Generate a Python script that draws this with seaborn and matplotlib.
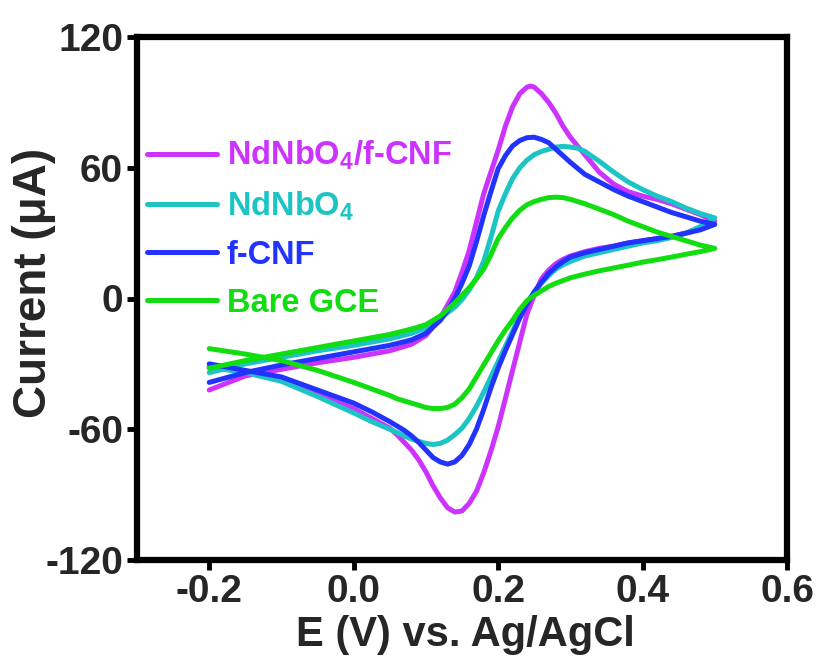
import numpy as np
import pandas as pd
import seaborn as sns
import matplotlib
matplotlib.use("Agg")
import matplotlib.pyplot as plt

# ---------------- data ----------------
series_names = ["NdNbO$_4$/f-CNF", "NdNbO$_4$", "f-CNF", "Bare GCE"]
series_colors = ["#CC33FF", "#1CC4C4", "#2233FF", "#11DD11"]

# forward (anodic) scans: -0.2 -> 0.5 V
E_fwd_mag = [-0.2, -0.15, -0.1, -0.05, 0.0, 0.05, 0.08, 0.1, 0.12, 0.13, 0.14, 0.15, 0.16, 0.17, 0.18, 0.19,
             0.2, 0.21, 0.22, 0.23, 0.24, 0.245, 0.25, 0.26, 0.27, 0.28, 0.29, 0.3, 0.31, 0.32, 0.34, 0.36, 0.38,
             0.4, 0.42, 0.44, 0.46, 0.48, 0.5]
I_fwd_mag = [-42, -35.5, -32.5, -29.5, -27, -24, -21, -17, -9, -3, 3, 12, 22, 35, 48, 58,
             68, 79, 88, 94, 97, 97.5, 97, 94, 90, 85, 79, 74, 70, 66, 58, 52.5, 49,
             47, 45.5, 43.5, 41, 38.5, 35.5]

E_rev_mag = [0.5, 0.48, 0.46, 0.44, 0.42, 0.4, 0.38, 0.36, 0.34, 0.32, 0.3, 0.29, 0.28, 0.27, 0.26, 0.25,
             0.24, 0.23, 0.22, 0.21, 0.2, 0.19, 0.18, 0.17, 0.16, 0.15, 0.14, 0.13, 0.12, 0.11, 0.1, 0.09,
             0.08, 0.07, 0.06, 0.05, 0.025, 0.0, -0.05, -0.1, -0.15, -0.2]
I_rev_mag = [35.5, 32, 30, 28.5, 27.5, 26.5, 25.5, 24, 23, 21.5, 19.5, 18, 16, 13, 9, 1.5,
             -7, -20, -33, -46, -59, -70, -80, -88.5, -94, -97.5, -98, -96, -91.5, -86, -79.5, -74,
             -69.5, -66, -62.5, -59.5, -55, -50.5, -44, -37.5, -34, -31]

E_fwd_cya = [-0.2, -0.15, -0.1, -0.05, 0.0, 0.05, 0.08, 0.1, 0.12, 0.14, 0.15, 0.16, 0.17, 0.18, 0.19,
             0.2, 0.21, 0.22, 0.23, 0.24, 0.25, 0.26, 0.27, 0.28, 0.29, 0.3, 0.31, 0.32, 0.34, 0.36, 0.38,
             0.4, 0.42, 0.44, 0.46, 0.48, 0.5]
I_fwd_cya = [-34, -30, -27, -24, -21.5, -18.5, -16, -13.5, -9, -4, -0.5, 4, 9.5, 17, 28,
             40, 48, 55, 60, 63.5, 66, 67.5, 68.5, 69.5, 69.8, 69.5, 69, 67.5, 63, 58, 53.5,
             50, 47, 44.5, 41.5, 39, 37]

E_rev_cya = [0.5, 0.48, 0.46, 0.44, 0.42, 0.4, 0.38, 0.36, 0.34, 0.32, 0.3, 0.29, 0.28, 0.27, 0.26, 0.25,
             0.24, 0.23, 0.22, 0.21, 0.2, 0.19, 0.18, 0.17, 0.16, 0.15, 0.14, 0.13, 0.12, 0.11, 0.1, 0.09,
             0.08, 0.07, 0.06, 0.05, 0.025, 0.0, -0.05, -0.1, -0.15, -0.2]
I_rev_cya = [37, 33, 30, 28, 26.5, 25.5, 24, 22.5, 21, 19.5, 17, 15.5, 13.5, 10.5, 7, 3,
             -2, -8, -15, -22, -29, -36, -43, -49.5, -55, -59.5, -62.5, -65, -66.5, -67, -66.5, -65.5,
             -64.5, -63, -61.5, -60, -56.5, -52.5, -45, -38, -34, -31.5]

E_fwd_blu = [-0.2, -0.15, -0.1, -0.05, 0.0, 0.05, 0.08, 0.1, 0.12, 0.13, 0.14, 0.15, 0.16, 0.17, 0.18, 0.19,
             0.2, 0.21, 0.22, 0.23, 0.24, 0.25, 0.26, 0.27, 0.28, 0.29, 0.3, 0.32, 0.34, 0.36, 0.38,
             0.4, 0.42, 0.44, 0.46, 0.48, 0.5]
I_fwd_blu = [-38.5, -34, -30.5, -27.5, -24.5, -21.5, -19, -16, -10, -5.5, 0, 7, 15, 26, 38, 49,
             59.5, 65.5, 70, 72.5, 73.8, 74, 73, 71.5, 68.5, 65.5, 62.5, 57, 53.5, 50, 47,
             44.5, 42, 39.5, 37.5, 35.5, 34]

E_rev_blu = [0.5, 0.48, 0.46, 0.44, 0.42, 0.4, 0.38, 0.36, 0.34, 0.32, 0.3, 0.29, 0.28, 0.27, 0.26, 0.25,
             0.24, 0.23, 0.22, 0.21, 0.2, 0.19, 0.18, 0.17, 0.16, 0.15, 0.14, 0.13, 0.12, 0.11, 0.1, 0.09,
             0.08, 0.07, 0.06, 0.05, 0.025, 0.0, -0.05, -0.1, -0.15, -0.2]
I_rev_blu = [34, 31.5, 30, 28.5, 27.5, 26.5, 25.5, 24, 22.5, 21, 19, 17, 14.5, 11.5, 7.5, 3,
             -2.5, -9, -16.5, -24, -32, -41, -51, -60, -67, -72, -75, -76, -75, -73, -69.5, -66,
             -63, -60.5, -58.5, -56.5, -52, -48, -42, -36, -33, -30]

E_fwd_grn = [-0.2, -0.15, -0.1, -0.05, 0.0, 0.05, 0.08, 0.1, 0.12, 0.14, 0.15, 0.16, 0.17, 0.18, 0.19,
             0.2, 0.21, 0.22, 0.23, 0.24, 0.25, 0.26, 0.27, 0.28, 0.29, 0.3, 0.32, 0.34, 0.36, 0.38,
             0.4, 0.42, 0.44, 0.46, 0.48, 0.5]
I_fwd_grn = [-32, -28.5, -25.5, -22.5, -19.5, -16.5, -14, -12, -8, -2, 1.5, 5, 9, 13.5, 20,
             27.5, 32.5, 37, 40.5, 43, 44.5, 45.5, 46.3, 46.5, 46.3, 45.5, 43.5, 41, 38.5, 35.5,
             33, 30.5, 28.5, 26.5, 24.5, 23]

E_rev_grn = [0.5, 0.48, 0.46, 0.44, 0.42, 0.4, 0.38, 0.36, 0.34, 0.32, 0.3, 0.28, 0.27, 0.26, 0.25,
             0.24, 0.23, 0.22, 0.21, 0.2, 0.19, 0.18, 0.17, 0.16, 0.15, 0.14, 0.13, 0.12, 0.11, 0.1, 0.09,
             0.08, 0.07, 0.06, 0.05, 0.025, 0.0, -0.05, -0.1, -0.15, -0.2]
I_rev_grn = [23, 21.5, 20.3, 19, 17.8, 16.7, 15.3, 14, 12.7, 11.2, 9.5, 7, 5.5, 3.5, 1.5,
             -1, -5, -10, -14.5, -19.5, -25, -30.5, -36, -41.5, -45.5, -48.5, -50, -50.5, -50.5, -50, -49,
             -48, -47, -46, -44.5, -41.5, -38.5, -33, -28.5, -25.5, -23]

x_ticks = [-0.2, 0.0, 0.2, 0.4, 0.6]
y_ticks = [-120, -60, 0, 60, 120]
x_label = "E (V) vs. Ag/AgCl"
y_label = "Current (\u03bcA)"

# ---------------- assemble ----------------
E_all = [(E_fwd_mag, E_rev_mag), (E_fwd_cya, E_rev_cya), (E_fwd_blu, E_rev_blu), (E_fwd_grn, E_rev_grn)]
I_all = [(I_fwd_mag, I_rev_mag), (I_fwd_cya, I_rev_cya), (I_fwd_blu, I_rev_blu), (I_fwd_grn, I_rev_grn)]
frames = []
for name, (ef, er), (jf, jr) in zip(series_names, E_all, I_all):
    e = list(ef) + list(er)
    j = list(jf) + list(jr)
    frames.append(pd.DataFrame({"E": e, "I": j, "series": name, "order": range(len(e))}))
df = pd.concat(frames, ignore_index=True)

sns.set_theme(style="white")
plt.rcParams["font.family"] = ["Liberation Sans", "DejaVu Sans"]
plt.rcParams["font.weight"] = "bold"
plt.rcParams["mathtext.fontset"] = "custom"
plt.rcParams["mathtext.rm"] = "Liberation Sans:bold"
plt.rcParams["mathtext.it"] = "Liberation Sans:bold"
plt.rcParams["mathtext.bf"] = "Liberation Sans:bold"
plt.rcParams["mathtext.default"] = "rm"

fig = plt.figure(figsize=(8.22, 6.71), dpi=100)
ax = fig.add_axes([137 / 822, 1 - 560 / 671, 650 / 822, 523 / 671])

for name, col in zip(series_names, series_colors):
    sub = df[df["series"] == name]
    sns.lineplot(data=sub, x="E", y="I", sort=False, estimator=None, color=col,
                 linewidth=3.6, ax=ax, label=name)
for ln in ax.get_lines():
    ln.set_solid_joinstyle("round")
    ln.set_solid_capstyle("round")

ax.set_xlim(-0.3, 0.6)
ax.set_ylim(-120, 120)
ax.set_xticks(x_ticks)
ax.set_yticks(y_ticks)
ax.set_xticklabels(["-0.2", "0.0", "0.2", "0.4", "0.6"])
ax.set_yticklabels([str(v) for v in y_ticks])
for sp in ax.spines.values():
    sp.set_linewidth(4.5)
    sp.set_color("black")
ax.tick_params(axis="both", which="major", direction="out", length=7, width=3.5,
               labelsize=28, color="black", pad=3, bottom=True, left=True, top=False, right=False)
for t in ax.get_xticklabels() + ax.get_yticklabels():
    t.set_fontweight("bold")

ax.set_xlabel(x_label, fontsize=30, fontweight="bold")
ax.set_ylabel(y_label, fontsize=33, fontweight="bold")
ax.xaxis.set_label_coords(0.505, -0.105)
ax.yaxis.set_label_coords(-0.125, 0.53)

leg = ax.legend(loc="upper left", bbox_to_anchor=(-0.005, 0.83), frameon=False,
                fontsize=23.5, handlelength=2.15, handletextpad=0.3, labelspacing=0.52,
                borderaxespad=0.0)
for txt, col in zip(leg.get_texts(), series_colors):
    txt.set_color(col)
    txt.set_fontweight("bold")
for ln in leg.get_lines():
    ln.set_linewidth(3.6)

fig.savefig("out.png", dpi=100, facecolor="white")
